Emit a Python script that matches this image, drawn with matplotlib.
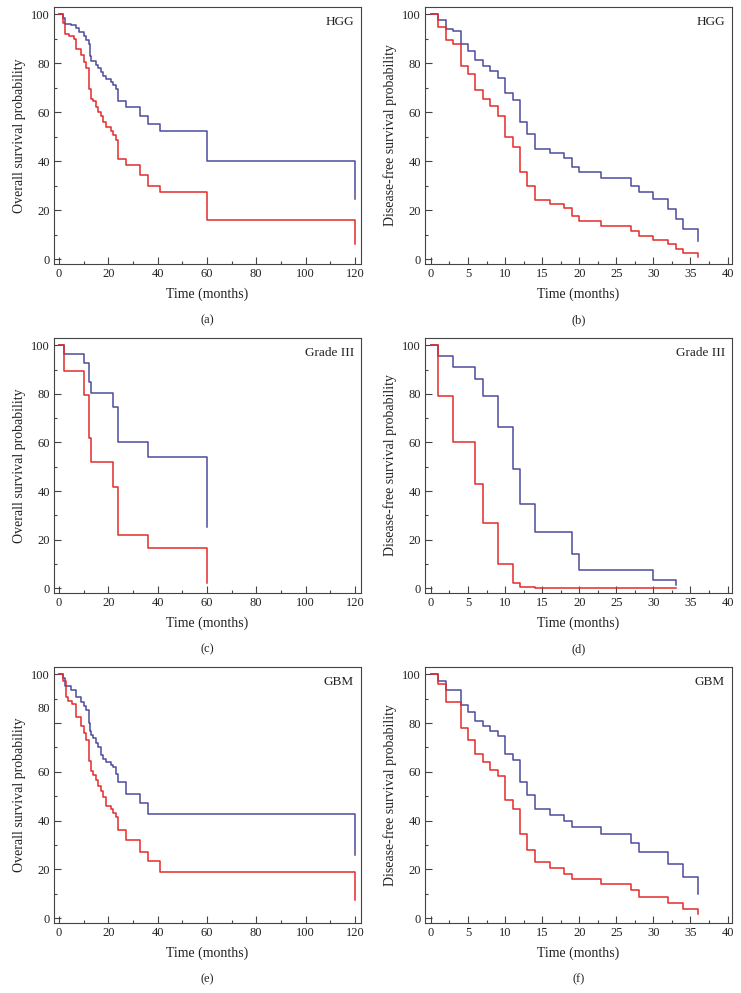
import matplotlib
matplotlib.use("Agg")
import matplotlib.pyplot as plt
from matplotlib.ticker import MultipleLocator
from matplotlib.transforms import ScaledTranslation

plt.rcParams['font.family'] = ['Liberation Serif', 'DejaVu Serif']

# (a) overall survival, HGG
a_blue_t = [0, 1.5, 2.5, 5, 7, 8, 10, 11, 12, 12.5, 13, 15, 16, 17, 18, 19, 21, 22, 23, 24, 27, 33, 36, 41, 60, 120, 120]
a_blue_s = [100, 98.5, 96, 95.5, 94.5, 92.8, 91, 89.5, 88, 83, 81, 79.5, 78, 76.5, 75, 73.5, 72.5, 71, 69.5, 64.5, 62, 58.5, 55, 52.5, 40, 40, 24.5]
a_red_t = [0, 1.5, 2.5, 4, 6, 7, 9, 10, 11, 12, 13, 14, 15, 16, 17, 18, 19, 21, 22, 23, 24, 27, 33, 36, 41, 60, 120, 120]
a_red_s = [100, 96.5, 92, 91, 90, 86, 83.5, 80.5, 78, 69.5, 65.5, 64.5, 62, 60, 58.5, 56, 54, 52.5, 50.5, 48.5, 41, 38.5, 34.5, 30, 27.5, 16, 16, 6]

# (b) disease-free survival, HGG
b_blue_t = [0, 1, 2, 3, 4, 5, 6, 7, 8, 9, 10, 11, 12, 13, 14, 16, 18, 19, 20, 23, 27, 28, 30, 32, 33, 34, 36, 36]
b_blue_s = [100, 97.5, 94, 93, 88, 85, 81.5, 79, 77, 74, 68, 65, 56, 51, 45, 43.5, 41.5, 37.5, 35.5, 33, 30, 27.5, 24.5, 20.5, 16.5, 12.5, 12.5, 7.5]
b_red_t = [0, 1, 2, 3, 4, 5, 6, 7, 8, 9, 10, 11, 12, 13, 14, 16, 18, 19, 20, 23, 27, 28, 30, 32, 33, 34, 36, 36]
b_red_s = [100, 95, 89.5, 88, 79, 75.5, 69, 65.5, 62.5, 58.5, 50, 46, 35.5, 30, 24, 22.5, 21, 17.5, 15.5, 13.5, 11.5, 9.5, 8, 6, 4, 2.5, 2.5, 1]

# (c) overall survival, Grade III
c_blue_t = [0, 2, 10, 12, 13, 22, 24, 36, 60, 60]
c_blue_s = [100, 96.5, 92.5, 85, 80.5, 74.5, 60, 54, 54, 25]
c_red_t = [0, 2, 10, 12, 13, 22, 24, 36, 60, 60]
c_red_s = [100, 89.5, 79.5, 62, 52, 41.5, 22, 16.5, 16.5, 2]

# (d) disease-free survival, Grade III
d_blue_t = [0, 1, 3, 6, 7, 9, 11, 12, 14, 19, 20, 30, 33, 33]
d_blue_s = [100, 95.5, 91, 86, 79, 66.5, 49, 34.5, 23, 14, 7.5, 3.5, 3.5, 1.5]
d_red_t = [0, 1, 3, 6, 7, 9, 11, 12, 14, 33]
d_red_s = [100, 79, 60, 43, 27, 10, 2, 0.5, 0, 0]

# (e) overall survival, GBM
e_blue_t = [0, 1.5, 2.3, 5, 7, 9, 10, 11, 12, 12.5, 13, 14, 15, 16, 17, 18, 19, 21, 22, 23, 24, 27, 33, 36, 41, 120, 120]
e_blue_s = [100, 98.5, 95.2, 93.5, 90.9, 88.8, 87.1, 85.3, 80, 76.9, 75.2, 73.9, 71.7, 70, 67, 65.3, 64.2, 63, 61.9, 59.2, 56, 51, 47.3, 42.7, 42.7, 25.9, 25.9]
e_red_t = [0, 1.6, 2.7, 3.7, 5.4, 7, 9, 10, 11, 12, 13, 14, 15, 16, 17, 18, 19, 21, 22, 23, 24, 27, 33, 36, 41, 120, 120]
e_red_s = [100, 97.4, 90.7, 89, 88, 82.6, 79, 76, 73.2, 64.6, 60.5, 58.9, 56.5, 54, 52.1, 49.7, 46, 44.9, 43.1, 41.5, 36, 32, 27, 23.4, 19, 19, 7.5]

# (f) disease-free survival, GBM
f_blue_t = [0, 1, 2, 4, 5, 6, 7, 8, 9, 10, 11, 12, 13, 14, 16, 18, 19, 23, 27, 28, 32, 34, 36, 36]
f_blue_s = [100, 97.4, 93.6, 87.5, 84.7, 80.9, 78.6, 76.8, 74.5, 67.4, 65, 55.9, 50.3, 44.8, 42.5, 40, 37.3, 34.3, 30.7, 27.1, 22, 16.9, 16.9, 9.8]
f_red_t = [0, 1, 2, 4, 5, 6, 7, 8, 9, 10, 11, 12, 13, 14, 16, 18, 19, 23, 27, 28, 32, 34, 36, 36]
f_red_s = [100, 95.9, 88.6, 77.9, 73.2, 67.3, 64, 60.9, 58.2, 48.4, 44.8, 34.3, 27.9, 23, 20.7, 18.3, 16.2, 13.9, 11.4, 8.7, 6.4, 3.7, 3.7, 1.6]

panels = [
    ("(a)", "HGG", "Overall survival probability", 120, a_blue_t, a_blue_s, a_red_t, a_red_s),
    ("(b)", "HGG", "Disease-free survival probability", 40, b_blue_t, b_blue_s, b_red_t, b_red_s),
    ("(c)", "Grade III", "Overall survival probability", 120, c_blue_t, c_blue_s, c_red_t, c_red_s),
    ("(d)", "Grade III", "Disease-free survival probability", 40, d_blue_t, d_blue_s, d_red_t, d_red_s),
    ("(e)", "GBM", "Overall survival probability", 120, e_blue_t, e_blue_s, e_red_t, e_red_s),
    ("(f)", "GBM", "Disease-free survival probability", 40, f_blue_t, f_blue_s, f_red_t, f_red_s),
]

blue = "#4b4b9e"
red = "#e42a2a"
frame = "#444444"
txt = "#222222"

W, H = 741, 993
fig = plt.figure(figsize=(W / 100, H / 100), dpi=100)

lefts = [54, 425]
width = 307
rows = [(7, 264), (338, 593), (667, 923)]

for i, (tag, name, ylab, xmax, bt, bs, rt, rs) in enumerate(panels):
    col = i % 2
    top, bot = rows[i // 2]
    ax = fig.add_axes([lefts[col] / W, 1 - bot / H, width / W, (bot - top) / H])
    ax.step(bt, bs, where="post", color=blue, lw=1.1)
    ax.step(rt, rs, where="post", color=red, lw=1.1)
    if xmax == 120:
        ax.set_xlim(-2, 122.5)
        ax.xaxis.set_major_locator(MultipleLocator(20))
        ax.xaxis.set_minor_locator(MultipleLocator(10))
    else:
        ax.set_xlim(-0.8, 40.6)
        ax.xaxis.set_major_locator(MultipleLocator(5))
        ax.xaxis.set_minor_locator(MultipleLocator(2.5))
    ax.set_ylim(-2, 103)
    ax.yaxis.set_major_locator(MultipleLocator(20))
    ax.yaxis.set_minor_locator(MultipleLocator(10))
    ax.tick_params(which="major", direction="in", length=5, width=0.8, color=frame,
                   labelsize=9, labelcolor=txt, pad=3)
    ax.tick_params(which="minor", direction="in", length=2.5, width=0.8, color=frame)
    for sp in ax.spines.values():
        sp.set_color(frame)
        sp.set_linewidth(0.8)
    ax.set_xlabel("Time (months)", fontsize=10, color=txt, labelpad=5)
    ax.set_ylabel(ylab, fontsize=10, color=txt, labelpad=4)
    ax.text(0.977, 0.965, name, transform=ax.transAxes, ha="right", va="top",
            fontsize=9.5, color=txt)
    fig.text((lefts[col] + width / 2) / W, 1 - (bot + 56) / H, tag,
             ha="center", va="center", fontsize=9, color=txt)
    if tag == "(e)":
        # the "80" label sits a little high in the original panel
        fig.canvas.draw()
        for t in ax.yaxis.get_major_ticks():
            if t.get_loc() == 80:
                t.label1.set_transform(t.label1.get_transform()
                                       + ScaledTranslation(0, 0.16, fig.dpi_scale_trans))

fig.savefig("out.png", dpi=100)
